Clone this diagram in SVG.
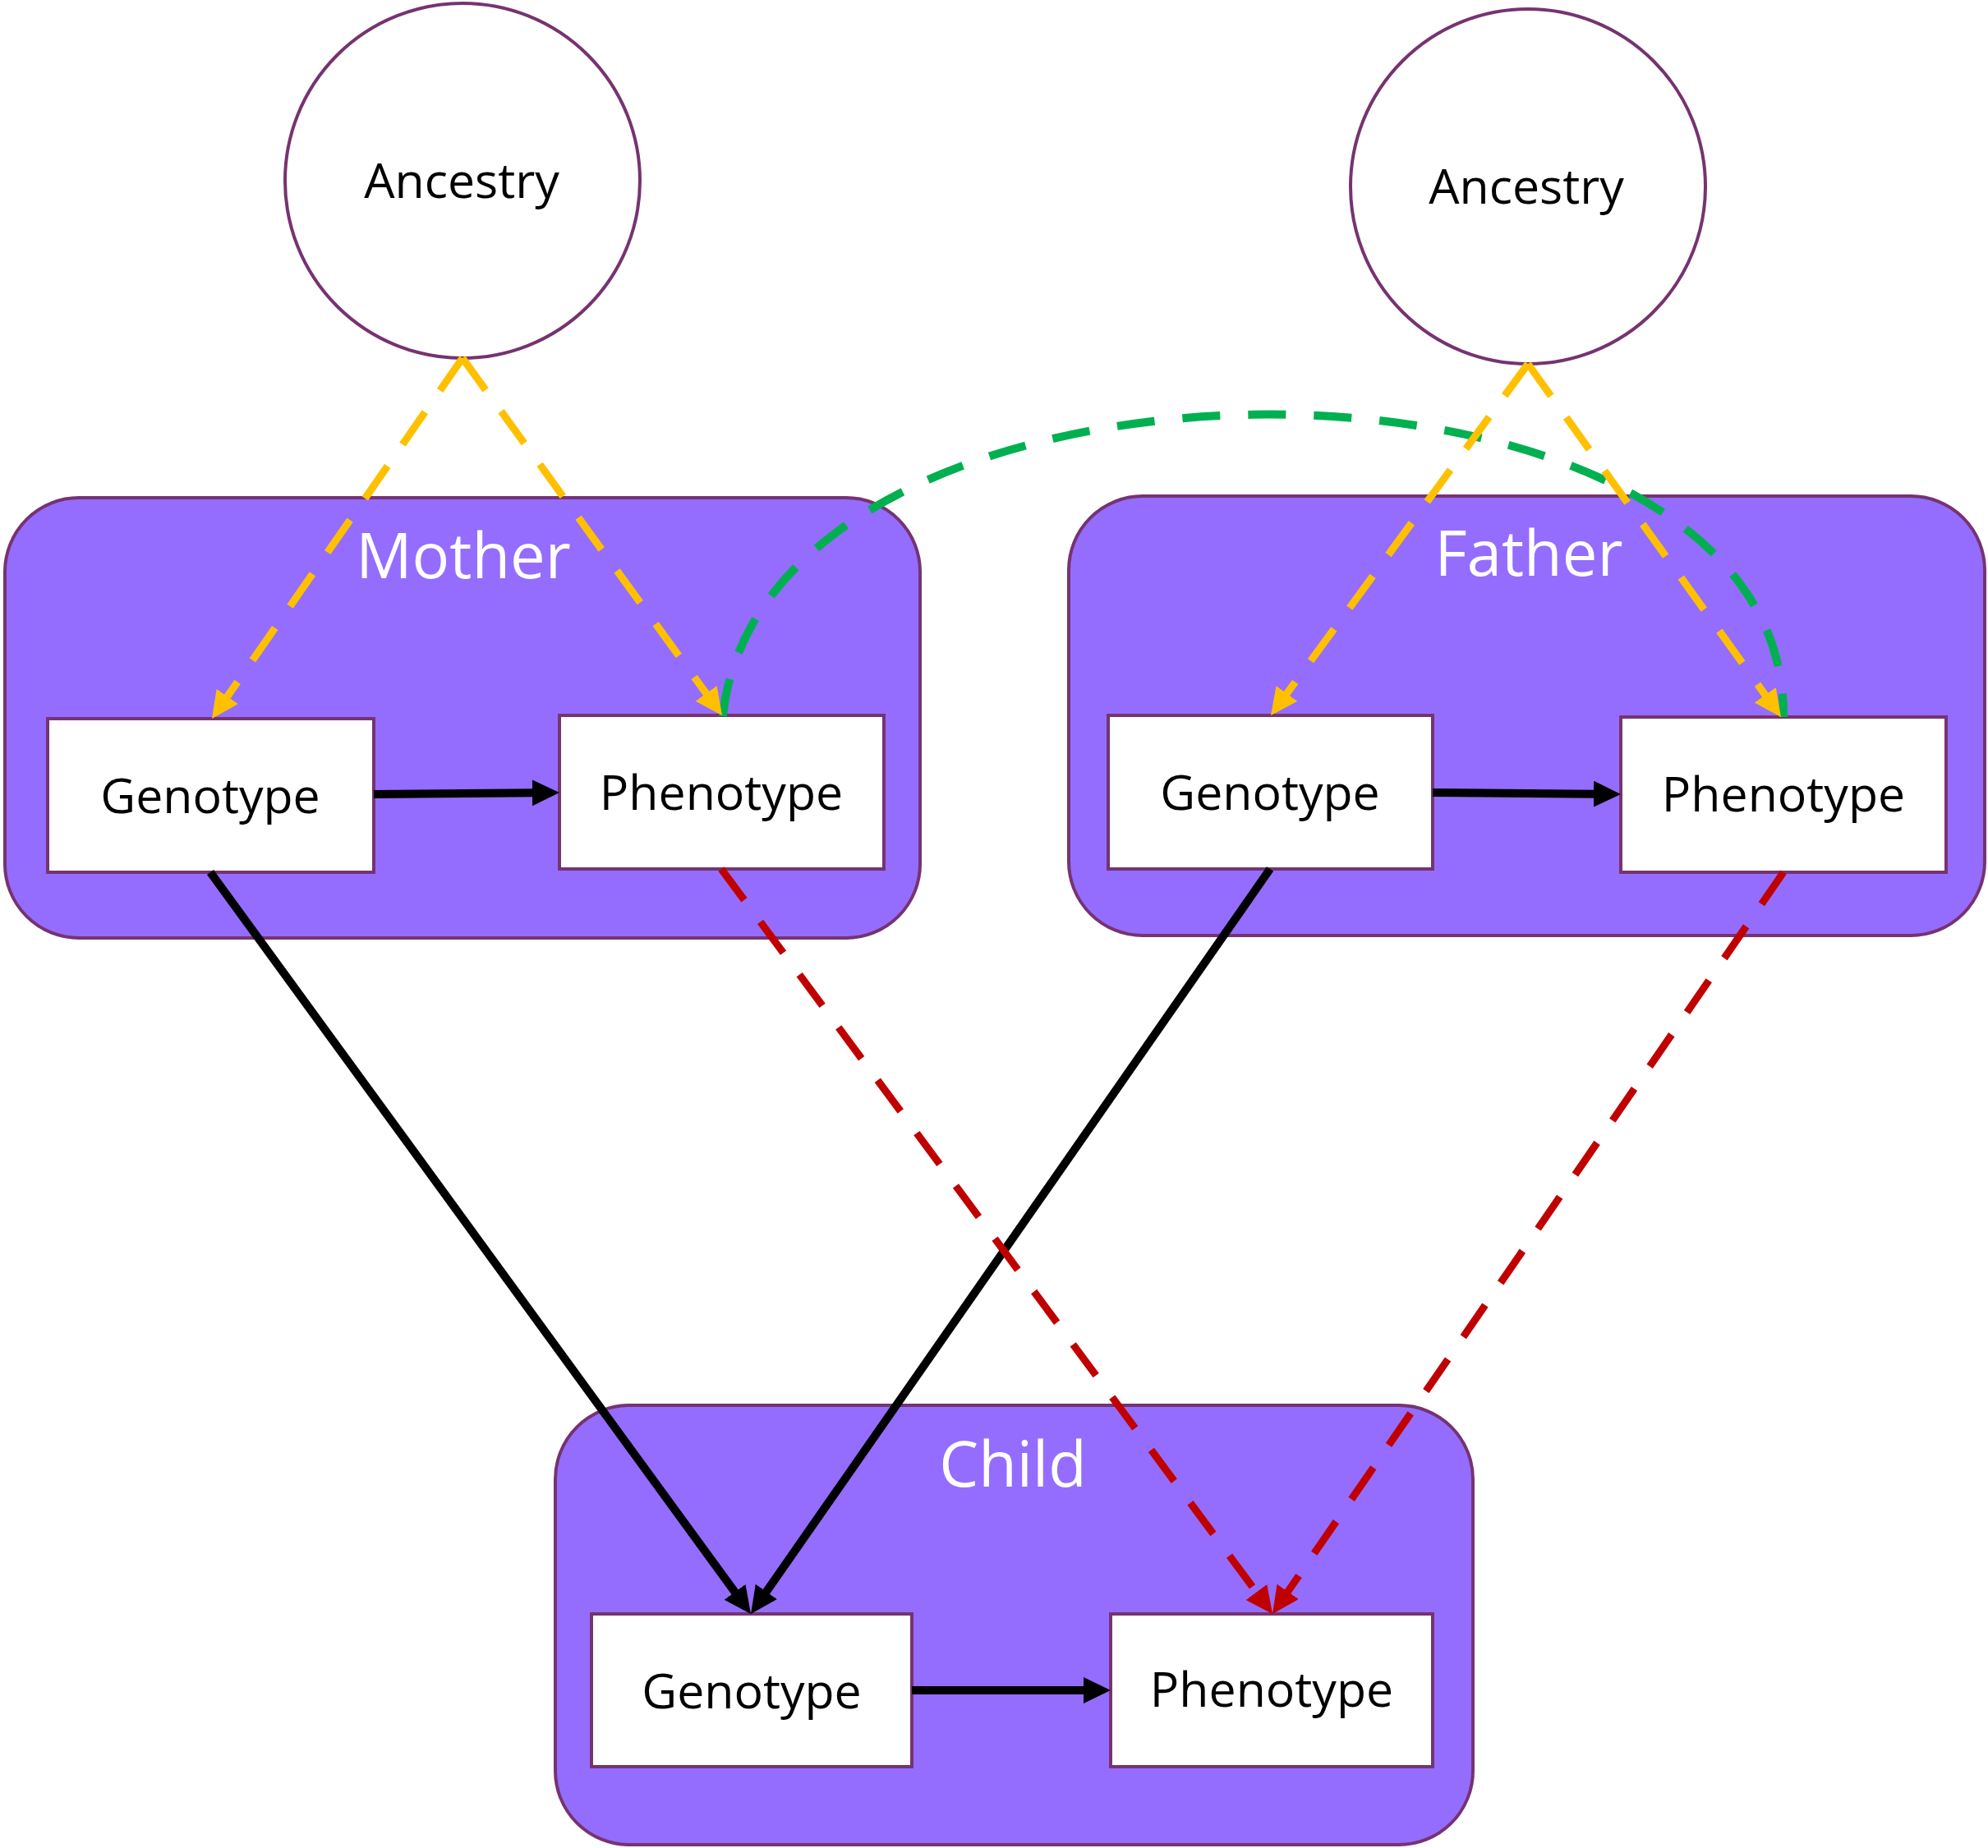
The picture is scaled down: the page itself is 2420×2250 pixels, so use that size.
<svg xmlns="http://www.w3.org/2000/svg" width="2420" height="2250" viewBox="0 0 2420 2250">
<style>
.group{fill:#946DFF;stroke:#763370;stroke-width:4}
.node{fill:#FFFFFF;stroke:#763370;stroke-width:4}
.anc{fill:#FFFFFF;stroke:#763370;stroke-width:4}
.lbl{font-family:"Open Sans","Noto Sans",sans-serif;font-size:59px;fill:#000;text-anchor:middle}
.glbl{font-family:"Open Sans","Noto Sans",sans-serif;font-size:76px;fill:#FFFFFF;text-anchor:middle}
.blk{fill:none;stroke:#000;stroke-width:10;marker-end:url(#ab)}
.red{fill:none;stroke:#C00000;stroke-width:9;stroke-dasharray:47 33;marker-end:url(#ar)}
.yel{fill:none;stroke:#FFC000;stroke-width:9;stroke-dasharray:48 32;marker-end:url(#ay)}
.grn{fill:none;stroke:#00B050;stroke-width:10;stroke-dasharray:46 34}
</style>
<defs>
<marker id="ab" markerUnits="userSpaceOnUse" markerWidth="34" markerHeight="34" refX="3" refY="16" orient="auto" viewBox="0 0 34 34"><path d="M0,0 L33,16 L0,32 z" fill="#000"/></marker>
<marker id="ar" markerUnits="userSpaceOnUse" markerWidth="34" markerHeight="34" refX="3" refY="16" orient="auto" viewBox="0 0 34 34"><path d="M0,0 L33,16 L0,32 z" fill="#C00000"/></marker>
<marker id="ay" markerUnits="userSpaceOnUse" markerWidth="34" markerHeight="34" refX="3" refY="16" orient="auto" viewBox="0 0 34 34"><path d="M0,0 L33,16 L0,32 z" fill="#FFC000"/></marker>
</defs>
<rect width="2420" height="2250" fill="#FFFFFF"/>
<g id="mother">
<rect class="group" x="6" y="606" width="1114" height="536" rx="90" ry="90"/>
<text class="glbl" x="564" y="704">Mother</text>
</g>
<g id="father">
<rect class="group" x="1301" y="604" width="1115" height="535" rx="90" ry="90"/>
<text class="glbl" x="1861" y="701">Father</text>
</g>
<g id="child">
<rect class="group" x="676" y="1711" width="1117" height="535" rx="90" ry="90"/>
<text class="glbl" x="1233" y="1810">Child</text>
</g>
<g id="mother-ancestry">
<circle class="anc" cx="563" cy="220" r="216"/>
<text class="lbl" x="562" y="241">Ancestry</text>
</g>
<g id="father-ancestry">
<circle class="anc" cx="1860" cy="227" r="216"/>
<text class="lbl" x="1858" y="248">Ancestry</text>
</g>
<g id="mother-genotype">
<rect class="node" x="58" y="875" width="397" height="187"/>
<text class="lbl" x="256" y="990">Genotype</text>
</g>
<g id="mother-phenotype">
<rect class="node" x="681" y="871" width="395" height="187"/>
<text class="lbl" x="878" y="986">Phenotype</text>
</g>
<g id="father-genotype">
<rect class="node" x="1349" y="871" width="395" height="187"/>
<text class="lbl" x="1546" y="986">Genotype</text>
</g>
<g id="father-phenotype">
<rect class="node" x="1973" y="873" width="396" height="189"/>
<text class="lbl" x="2171" y="988">Phenotype</text>
</g>
<g id="child-genotype">
<rect class="node" x="720" y="1965" width="390" height="186"/>
<text class="lbl" x="915" y="2080">Genotype</text>
</g>
<g id="child-phenotype">
<rect class="node" x="1352" y="1965" width="392" height="186"/>
<text class="lbl" x="1548" y="2078">Phenotype</text>
</g>
<g id="connectors">
<path class="grn" d="M880,872 C930,382 2176,382 2171,873"/>
<path class="yel" d="M563,436 L275.1,850.4"/>
<path class="yel" d="M563,436 L861.4,846.7"/>
<path class="yel" d="M1860,443 L1564.7,846.8"/>
<path class="yel" d="M1860,443 L2150.5,848.6"/>
<path class="blk" d="M455,967 L651,965.3"/>
<path class="blk" d="M1744,965 L1943,966.7"/>
<path class="blk" d="M1110,2058 L1322,2058"/>
<path class="blk" d="M256,1062 L896.3,1940.8"/>
<path class="blk" d="M1546,1058 L931.2,1940.4"/>
<path class="red" d="M878,1058 L1531.2,1940.9"/>
<path class="red" d="M2171,1062 L1566,1940.3"/>
</g>
</svg>
